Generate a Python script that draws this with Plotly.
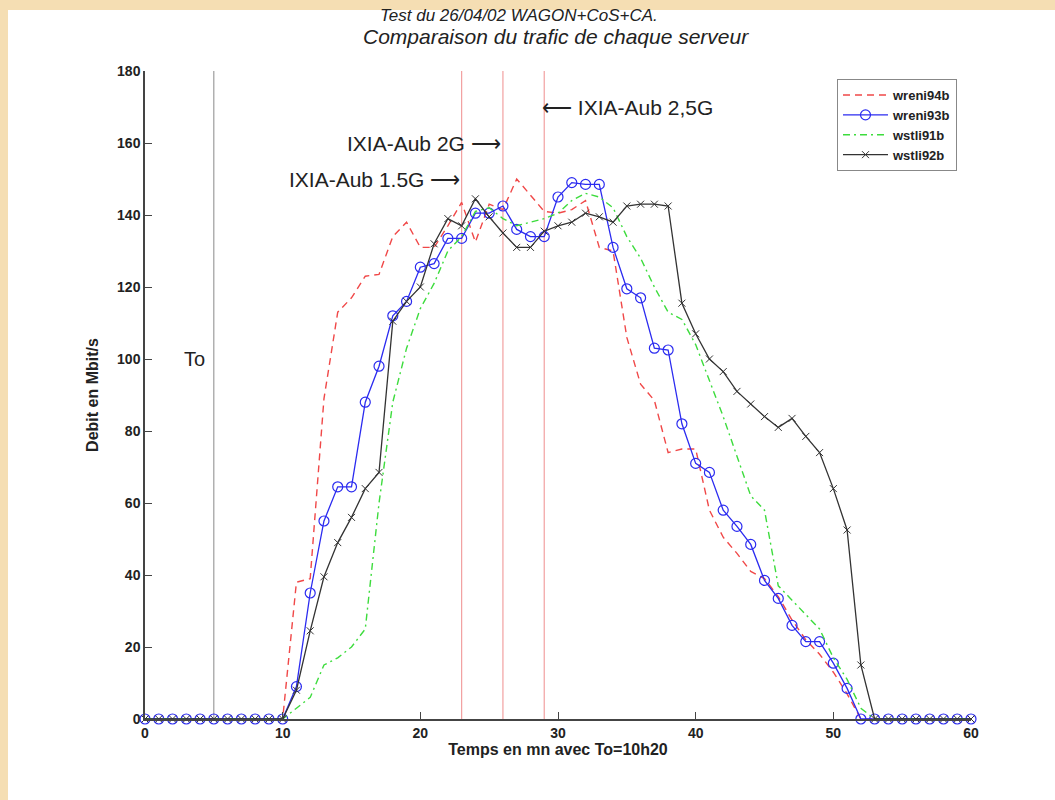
import plotly.graph_objects as go

# ---------------- data ----------------
minutes = list(range(0, 61))

wreni94b = [0, 0, 0, 0, 0, 0, 0, 0, 0, 0, 0,
            38, 39, 89, 113, 117, 123, 123.5, 134, 138, 131,
            131, 137, 143.5, 132.5, 143, 141.5, 150, 145.5, 141, 140.5,
            141.5, 144, 131, 130, 106, 93, 88.5, 74, 75, 75,
            58, 50.5, 46, 41, 39, 34, 27.5, 22, 18, 13,
            7, 0, 0, 0, 0, 0, 0, 0, 0, 0]

wreni93b = [0, 0, 0, 0, 0, 0, 0, 0, 0, 0, 0,
            9, 35, 55, 64.5, 64.5, 88, 98, 112, 116, 125.5,
            126.5, 133.5, 133.5, 140.5, 140.5, 142.5, 136, 134, 134, 145,
            149, 148.5, 148.5, 131, 119.5, 117, 103, 102.5, 82, 71,
            68.5, 58, 53.5, 48.5, 38.5, 33.5, 26, 21.5, 21.5, 15.5,
            8.5, 0, 0, 0, 0, 0, 0, 0, 0, 0]

wstli91b = [0, 0, 0, 0, 0, 0, 0, 0, 0, 0, 0,
            3, 6, 15, 17, 20, 25, 60, 88, 103, 114,
            121, 130, 134, 141, 142, 139, 137, 138, 139, 140.5,
            144, 146, 145, 142, 134, 128, 120, 113, 111, 104,
            94, 84, 73, 62, 58, 37, 33, 29, 25, 17,
            11, 3, 0, 0, 0, 0, 0, 0, 0, 0]

wstli92b = [0, 0, 0, 0, 0, 0, 0, 0, 0, 0, 0,
            8, 24.5, 39.5, 49, 56, 64, 68.5, 110.5, 116, 120,
            132, 139, 137, 144.5, 139.5, 135, 131, 131, 135.5, 137,
            138, 140.5, 139.5, 138, 142.5, 143, 143, 142.5, 115.5, 107,
            100, 96.5, 91, 87.5, 84, 81, 83.5, 78.5, 74, 64,
            52.5, 15, 0, 0, 0, 0, 0, 0, 0, 0]

t0_minute = 5
ixia_minutes = [23, 26, 29]
ixia_labels = ["IXIA-Aub 1.5G \u27f6", "IXIA-Aub 2G \u27f6", "\u27f5 IXIA-Aub 2,5G"]
ixia_levels = [150, 160, 170]

x_ticks = [0, 10, 20, 30, 40, 50, 60]
y_ticks = [0, 20, 40, 60, 80, 100, 120, 140, 160, 180]

title_lines = ["Test du 26/04/02 WAGON+CoS+CA.", "Comparaison du trafic de chaque serveur"]

# ---------------- layout helpers ----------------
W, H = 1055, 800
L, R, T, B = 145, 971, 71, 719   # plot area in pixels


def px_x(p):
    return (p - L) / (R - L)


def px_y(p):
    return (B - p) / (B - T)


FONT = "Liberation Sans, Arial, Helvetica, sans-serif"
WHEAT = "#f5deb3"

fig = go.Figure()

fig.add_trace(go.Scatter(
    x=minutes, y=wreni94b, name="wreni94b", mode="lines",
    line=dict(color="#f04848", width=1.4, dash="7px,5px"),
    cliponaxis=False))
fig.add_trace(go.Scatter(
    x=minutes, y=wreni93b, name="wreni93b", mode="lines+markers",
    line=dict(color="#2b2bf0", width=1.3),
    marker=dict(symbol="circle-open", size=10, color="#2b2bf0", line=dict(width=1.2)),
    cliponaxis=False))
fig.add_trace(go.Scatter(
    x=minutes, y=wstli91b, name="wstli91b", mode="lines",
    line=dict(color="#3ddc3d", width=1.4, dash="7px,4px,2px,4px"),
    cliponaxis=False))
fig.add_trace(go.Scatter(
    x=minutes, y=wstli92b, name="wstli92b", mode="lines+markers",
    line=dict(color="#333333", width=1.3),
    marker=dict(symbol="x-thin-open", size=7, color="#333333", line=dict(width=1, color="#333333")),
    cliponaxis=False))

shapes = [
    # wheat frame strips (top and left) of the original picture
    dict(type="rect", xref="paper", yref="paper", layer="below",
         x0=px_x(-5), x1=px_x(W + 5), y0=px_y(10), y1=px_y(-5),
         fillcolor=WHEAT, line=dict(width=0)),
    dict(type="rect", xref="paper", yref="paper", layer="below",
         x0=px_x(-5), x1=px_x(8), y0=px_y(H + 5), y1=px_y(-5),
         fillcolor=WHEAT, line=dict(width=0)),
    dict(type="line", xref="x", yref="y", x0=t0_minute, x1=t0_minute, y0=0, y1=180,
         line=dict(color="#8a8a8a", width=1), layer="below"),
]
for m in ixia_minutes:
    shapes.append(dict(type="line", xref="x", yref="y", x0=m, x1=m, y0=0, y1=180,
                       line=dict(color="#f2a0a0", width=1.2), layer="below"))

annotations = [
    dict(text="<i>" + title_lines[0] + "</i>", xref="paper", yref="paper",
         x=px_x(519), y=px_y(16), xanchor="center", yanchor="middle", showarrow=False,
         font=dict(family=FONT, size=17, color="#222")),
    dict(text="<i>" + title_lines[1] + "</i>", xref="paper", yref="paper",
         x=px_x(556), y=px_y(36), xanchor="center", yanchor="middle", showarrow=False,
         font=dict(family=FONT, size=21, color="#222")),
    dict(text="To", xref="x", yref="y", x=3.6, y=100, xanchor="center", yanchor="middle",
         showarrow=False, font=dict(family=FONT, size=20, color="#222")),
]
for m, lab, lev in zip(ixia_minutes, ixia_labels, ixia_levels):
    right = not lab.startswith("\u27f5")
    annotations.append(dict(
        text=lab, xref="x", yref="y", x=m, y=lev,
        xanchor="right" if right else "left", yanchor="middle", showarrow=False,
        xshift=0 if right else -4,
        font=dict(family=FONT, size=21, color="#222")))

fig.update_layout(
    width=W, height=H,
    margin=dict(l=L, r=W - R, t=T, b=H - B, pad=0),
    paper_bgcolor="white",
    plot_bgcolor="white",
    shapes=shapes,
    annotations=annotations,
    showlegend=True,
    legend=dict(x=px_x(957), y=px_y(79), xanchor="right", yanchor="top",
                bgcolor="white", bordercolor="#888", borderwidth=1,
                font=dict(family=FONT, size=13, color="#222", weight="bold"),
                tracegroupgap=0, itemwidth=45),
    xaxis=dict(range=[0, 60], tickvals=x_ticks, ticks="inside", ticklen=7, tickwidth=1.3,
               tickcolor="#444", showline=True, linecolor="#444", linewidth=1.5,
               showgrid=False, zeroline=False, mirror=False,
               tickfont=dict(family=FONT, size=14, color="#222", weight="bold"),
               title=dict(text="Temps en mn avec To=10h20", standoff=2,
                          font=dict(family=FONT, size=16, color="#222", weight="bold"))),
    yaxis=dict(range=[0, 180], tickvals=y_ticks, ticks="inside", ticklen=7, tickwidth=1.3,
               tickcolor="#444", showline=True, linecolor="#444", linewidth=1.5,
               showgrid=False, zeroline=False, mirror=False,
               tickfont=dict(family=FONT, size=14, color="#222", weight="bold"),
               title=dict(text="Debit en Mbit/s", standoff=14,
                          font=dict(family=FONT, size=16, color="#222", weight="bold"))),
)

fig.write_html("out.html", config={"displayModeBar": False},
               post_script="document.body.style.margin='0';document.body.style.overflow='hidden';")
